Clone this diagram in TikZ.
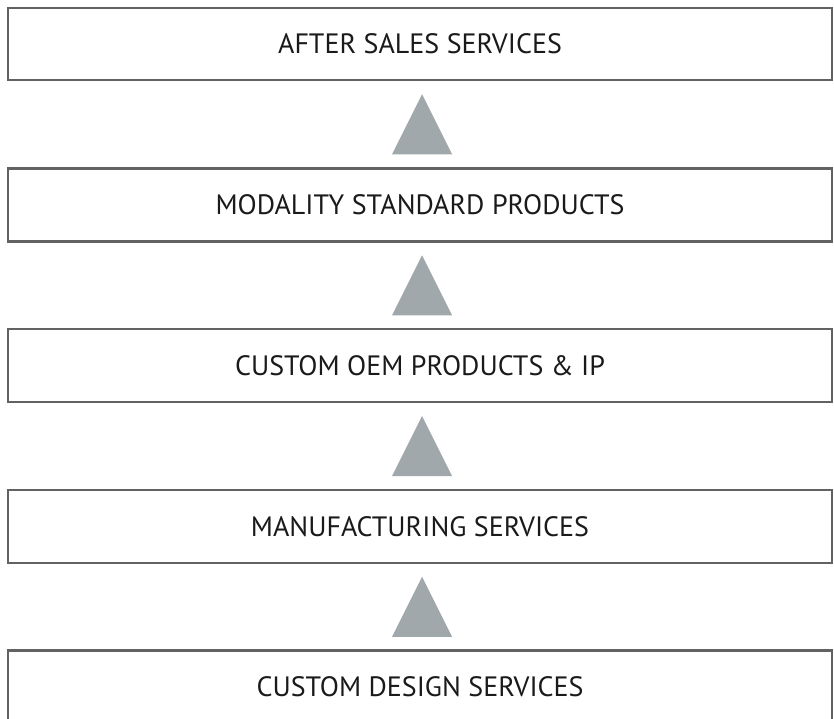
\documentclass[tikz,border=0pt]{standalone}
\usepackage{fontspec}
\setmainfont{PT Sans}
\usetikzlibrary{calc}
\definecolor{boxgray}{HTML}{626262}
\definecolor{trigray}{HTML}{A1A8AB}
\definecolor{textblack}{HTML}{1A1A1A}
\begin{document}
\begin{tikzpicture}[x=1pt,y=-1pt,
  layerbox/.style={draw=boxgray, line width=2.4pt, minimum width=824pt, minimum height=73pt,
    inner sep=0pt, font=\fontsize{28}{33}\selectfont, text=textblack},
  uptri/.style={fill=trigray, draw=none}]
\useasboundingbox (0,0) rectangle (834,718);
\clip (0,0) rectangle (834,718);
\node[layerbox, minimum height=72pt] (b1) at (420,44) {AFTER SALES SERVICES};
\node[layerbox] (b2) at (420,205) {MODALITY STANDARD PRODUCTS};
\node[layerbox] (b3) at (420,365.5) {CUSTOM OEM PRODUCTS \& IP};
\node[layerbox] (b4) at (420,526.5) {MANUFACTURING SERVICES};
\node[layerbox] (b5) at (420,687) {CUSTOM DESIGN SERVICES};
\foreach \lo/\hi in {b2/b1,b3/b2,b4/b3,b5/b4}{
  \coordinate (m) at ($(\lo.north)!0.5!(\hi.south)$);
  \fill[uptri] ($(m)+(-28,30)$) -- ($(m)+(2,-30)$) -- ($(m)+(32,30)$) -- cycle;
}
\end{tikzpicture}
\end{document}
